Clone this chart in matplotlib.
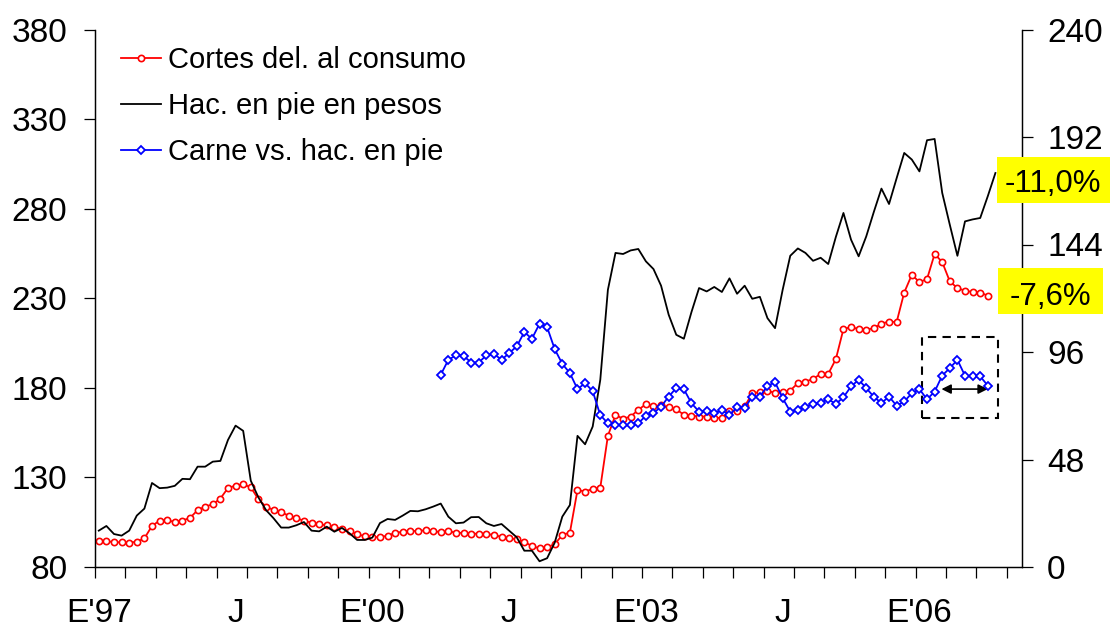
import matplotlib
matplotlib.use('Agg')
import matplotlib.pyplot as plt
from matplotlib.patches import Rectangle
import numpy as np

plt.rcParams['font.family'] = ['Liberation Sans', 'DejaVu Sans']

# monthly series, Jan 1997 onwards
cortes = [94.5, 94.5, 93.8, 93.8, 93.6, 94.1, 96.0, 102.9, 105.9, 106.1,
          105.1, 105.9, 107.4, 111.7, 113.7, 115.0, 118.2, 124.1, 125.4, 126.2,
          124.5, 117.8, 113.7, 111.8, 110.5, 108.7, 107.4, 105.7, 104.8, 103.8,
          103.3, 102.5, 101.2, 100.1, 98.4, 97.1, 96.8, 96.6, 97.5, 99.0,
          99.7, 100.1, 100.1, 100.5, 100.1, 99.4, 99.9, 99.2, 99.0, 98.6,
          98.6, 98.4, 97.9, 96.8, 96.0, 95.5, 94.0, 91.7, 90.4, 91.0,
          92.7, 97.9, 99.2, 123.0, 122.1, 123.6, 124.3, 153.2, 164.9, 162.7,
          164.0, 167.7, 170.9, 169.6, 170.3, 169.2, 168.1, 164.9, 164.5, 164.0,
          164.0, 163.4, 163.1, 166.8, 167.3, 169.6, 177.0, 177.6, 178.5, 177.0,
          177.4, 178.5, 182.6, 183.5, 184.9, 187.8, 187.8, 196.0, 212.8, 213.9,
          212.8, 212.4, 213.3, 215.8, 217.0, 216.7, 233.2, 243.1, 239.0, 240.7,
          254.7, 250.2, 239.4, 235.7, 234.2, 233.5, 233.2, 231.4]

hacienda = [100.3, 102.9, 98.4, 97.5, 100.3, 108.7, 112.6, 126.9, 124.0, 124.3,
            125.3, 129.2, 129.0, 136.0, 136.0, 138.8, 139.2, 150.9, 158.9, 156.0,
            128.2, 118.9, 111.8, 107.2, 102.0, 102.0, 103.3, 105.1, 100.3, 99.9,
            102.5, 99.7, 101.8, 98.8, 95.1, 95.1, 96.4, 104.5, 106.8, 106.3,
            108.7, 111.3, 111.1, 112.2, 113.7, 115.4, 108.1, 104.4, 104.8, 107.8,
            107.9, 104.4, 102.9, 104.0, 100.3, 96.6, 89.1, 89.1, 83.2, 84.9,
            93.6, 108.1, 114.6, 153.2, 148.5, 158.4, 184.5, 234.7, 255.3, 254.7,
            256.7, 257.5, 250.6, 246.3, 237.0, 220.8, 209.6, 207.4, 222.3, 235.7,
            233.8, 236.3, 233.5, 241.1, 232.5, 237.0, 229.7, 230.8, 218.9, 213.3,
            234.7, 253.7, 257.8, 255.3, 250.9, 252.6, 249.1, 264.2, 277.6, 262.7,
            253.4, 264.5, 278.2, 291.2, 282.6, 297.0, 311.1, 307.4, 300.8, 318.2,
            318.9, 288.8, 271.0, 253.7, 272.9, 274.0, 274.8, 287.0, 299.9]

carne_start = 45  # first month with data (Oct 2000)
carne_vs_hac = [85.8, 92.5, 94.5, 94.3, 91.3, 91.3, 94.5, 95.2, 92.5, 95.5,
                98.5, 104.9, 101.9, 108.6, 107.1, 97.3, 90.7, 86.6, 79.4, 82.1,
                78.5, 67.8, 64.2, 63.6, 63.3, 63.2, 64.2, 67.5, 68.7, 71.6,
                76.1, 79.9, 79.4, 73.1, 69.4, 69.7, 68.7, 69.9, 67.9, 71.4,
                70.9, 76.1, 76.1, 80.9, 82.5, 75.4, 69.4, 70.2, 71.4, 72.8,
                73.4, 74.9, 72.8, 75.8, 80.6, 83.6, 79.9, 76.0, 73.2, 76.1,
                72.0, 73.9, 77.6, 79.4, 74.9, 78.3, 85.5, 88.8, 92.5, 85.4,
                85.1, 85.1, 81.0]

n_months = 122
xlabels = ["E'97", "J", "E'00", "J", "E'03", "J", "E'06"]
label_step = 18
var_labels = ['-11,0%', '-7,6%']

fig = plt.figure(figsize=(11.1, 6.3), dpi=100)
ax = fig.add_axes([95/1110, 63/630, 927/1110, 537.5/630])
ax2 = ax.twinx()

x_c = np.arange(len(cortes))
x_h = np.arange(len(hacienda))
x_b = np.arange(len(carne_vs_hac)) + carne_start

l1, = ax.plot(x_c, cortes, color='#ff0000', lw=1.3, marker='o', ms=4.5,
              mfc='white', mec='#ff0000', mew=1.2, label='Cortes del. al consumo')
l2, = ax.plot(x_h, hacienda, color='black', lw=1.3, label='Hac. en pie en pesos')
l3, = ax2.plot(x_b, carne_vs_hac, color='#0000ff', lw=1.3, marker='D', ms=4.5,
               mfc='white', mec='#0000ff', mew=1.3, label='Carne vs. hac. en pie')

ax.set_xlim(-0.5, n_months - 0.5)
ax.set_ylim(80, 380)
ax.set_yticks(np.arange(80, 381, 50))
ax2.set_ylim(0, 240)
ax2.set_yticks(np.arange(0, 241, 48))

ax.set_xticks(np.arange(-0.5, n_months - 1, 4))
ax.set_xticklabels([])
ax.set_xticks(np.arange(len(xlabels)) * label_step, xlabels, minor=True)
ax.tick_params(axis='x', which='minor', length=0, pad=22, labelsize=24)
ax.tick_params(axis='x', which='major', direction='out', length=8, width=0.9)
ax.tick_params(axis='y', direction='out', length=8, width=0.9, pad=12, labelsize=24)
ax2.tick_params(axis='y', direction='out', length=8, width=0.9, pad=10, labelsize=24)

for a in (ax, ax2):
    a.spines['top'].set_visible(False)
    for s in ('left', 'right', 'bottom'):
        a.spines[s].set_linewidth(0.9)

# highlighted period
ax.add_patch(Rectangle((108.4, 163.1), 10.0, 45.0, fill=False, ls=(0, (4, 3)),
                       lw=1.5, ec='black', zorder=5))
ax.annotate('', xy=(110.9, 179.3), xytext=(117.0, 179.3),
            arrowprops=dict(arrowstyle='<|-|>', color='black', lw=1.2,
                            mutation_scale=14, shrinkA=0, shrinkB=0), zorder=6)

# variation boxes
for (x0, y0, x1, y1, yb), txt in zip([(996.7, 157.3, 1110, 203.3, 191.5),
                                      (997.7, 267.7, 1103, 314.3, 304.5)], var_labels):
    fig.add_artist(Rectangle((x0/1110, 1 - y1/630), (x1 - x0)/1110, (y1 - y0)/630,
                             transform=fig.transFigure, facecolor='#ffff00',
                             edgecolor='none', zorder=4))
    fig.text((x0 + x1)/2/1110, 1 - yb/630, txt, ha='center', va='baseline',
             fontsize=22.5, zorder=5)

ax2.legend(handles=[l1, l2, l3], loc='upper left', bbox_to_anchor=(121/1110, 1 - 46/630),
           bbox_transform=fig.transFigure, frameon=False, fontsize=21,
           handlelength=1.37, handletextpad=0.25, labelspacing=0.62,
           borderpad=0, borderaxespad=0, numpoints=1)

plt.savefig('out.png', dpi=100)
